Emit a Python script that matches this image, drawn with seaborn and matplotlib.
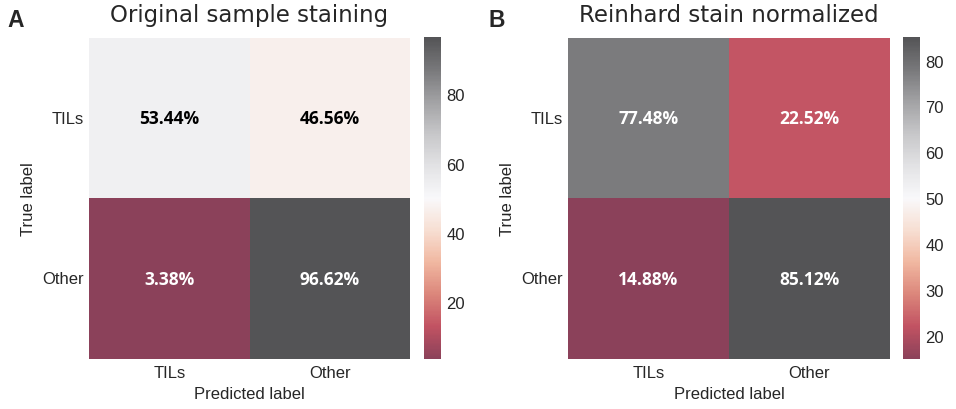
import numpy as np
import matplotlib
matplotlib.use("Agg")
import matplotlib.pyplot as plt
import seaborn as sns

# confusion matrices (row = true label, col = predicted label), in percent
class_names = ["TILs", "Other"]
original_vals = [[53.44, 46.56],
                 [3.38, 96.62]]
reinhard_vals = [[77.48, 22.52],
                 [14.88, 85.12]]
panel_titles = ["Original sample staining", "Reinhard stain normalized"]
panel_letters = ["A", "B"]

sns.set_style("white")
plt.rcParams["font.family"] = ["Liberation Sans", "DejaVu Sans"]

fig = plt.figure(figsize=(9.56, 4.10), dpi=100)

# axes boxes in figure fractions: heatmap + colorbar for each panel
heat_boxes = [[0.0931, 0.122, 0.3358, 0.783], [0.5942, 0.122, 0.3368, 0.783]]
cbar_boxes = [[0.4435, 0.122, 0.0178, 0.785], [0.9446, 0.122, 0.0178, 0.785]]
letter_x = [0.008, 0.511]

for vals, title, letter, hb, cb, lx in zip(
        [original_vals, reinhard_vals], panel_titles, panel_letters,
        heat_boxes, cbar_boxes, letter_x):
    data = np.array(vals)
    labels = np.array([[f"{v:.2f}%" for v in row] for row in vals])
    ax = fig.add_axes(hb, facecolor="#EAEAF2")
    cax = fig.add_axes(cb, facecolor="#EAEAF2")
    sns.heatmap(data, ax=ax, cbar_ax=cax, cmap="RdGy", alpha=0.72,
                annot=labels, fmt="",
                annot_kws={"fontsize": 12.5, "fontweight": "bold",
                           "family": ["Open Sans", "DejaVu Sans"]},
                xticklabels=class_names, yticklabels=class_names)
    for t in ax.texts:
        if t.get_color() != "w":
            t.set_color("black")
    ax.set_yticklabels(class_names, rotation=0, fontsize=12)
    ax.set_xticklabels(class_names, rotation=0, fontsize=12)
    ax.tick_params(axis="both", length=0, pad=4)
    ax.set_xlabel("Predicted label", fontsize=12, labelpad=5)
    ax.set_ylabel("True label", fontsize=12)
    ax.set_title(title, fontsize=16.5, family="DejaVu Sans", pad=12)
    cax.tick_params(labelsize=12, length=0, pad=4)
    for sp in cax.spines.values():
        sp.set_visible(False)
    fig.text(lx, 0.935, letter, fontsize=16.5, fontweight="bold")

fig.savefig("out.png", dpi=100)
